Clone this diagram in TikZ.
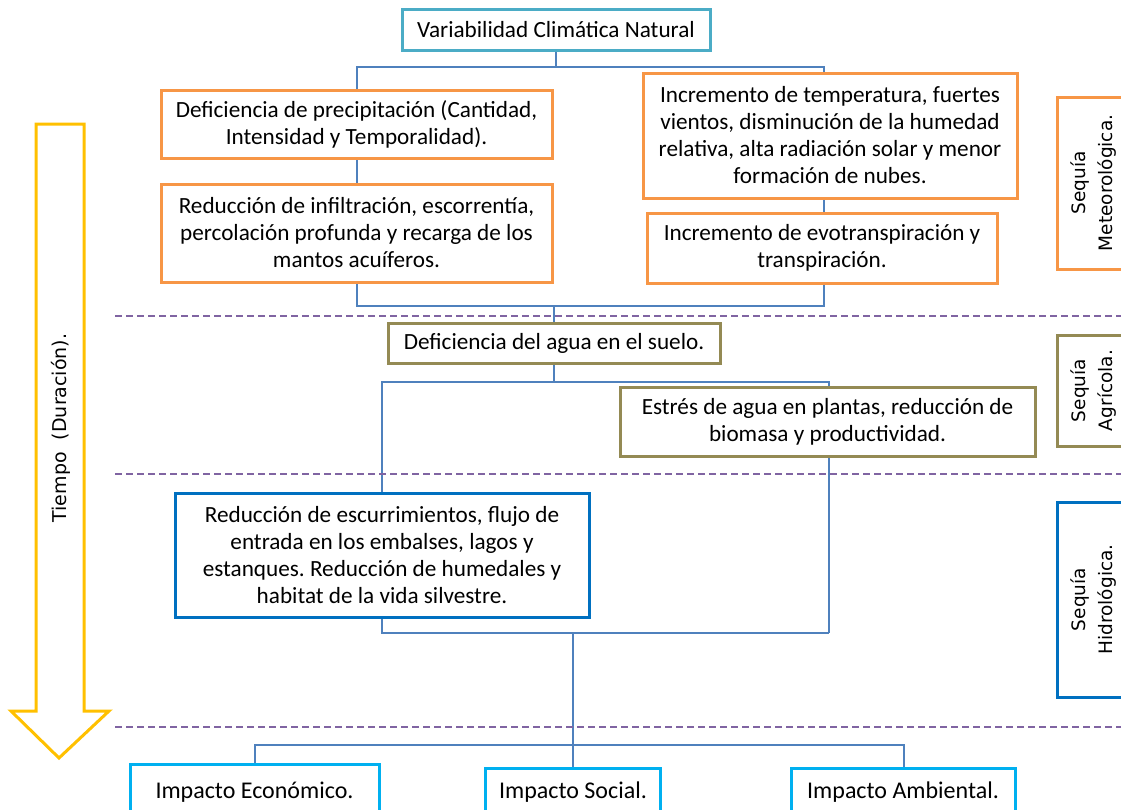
\documentclass[tikz,border=0pt]{standalone}
\usepackage{fontspec}
\setmainfont{Carlito}
\newfontfamily\sidefont{DejaVu Sans}
\usetikzlibrary{backgrounds}
\frenchspacing
\definecolor{cteal}{HTML}{4BACC6}
\definecolor{corange}{HTML}{F79646}
\definecolor{colive}{HTML}{948A54}
\definecolor{cblue}{HTML}{0070C0}
\definecolor{ccyan}{HTML}{00B0F0}
\definecolor{cconn}{HTML}{4F81BD}
\definecolor{cpurple}{HTML}{8064A2}
\definecolor{cyellow}{HTML}{FFC000}
\tikzset{
  box/.style={draw, fill=white, line width=3pt, align=center, inner sep=0pt,
    font=\fontsize{23.2}{27}\selectfont},
  sidebox/.style={draw, fill=white, line width=3pt, align=center, inner sep=0pt,
    rotate=90, font=\sidefont\fontsize{18.5}{27}\selectfont},
  conn/.style={draw=cconn, line width=1.4pt},
  sep/.style={draw=cpurple, line width=1.4pt, dash pattern=on 7pt off 4pt},
}
\begin{document}
\begin{tikzpicture}[x=1pt,y=-1pt]
\useasboundingbox (0,0) rectangle (1121,809);
% nodes
\node[box, draw=cteal, minimum width=308, minimum height=41] (top) at (556,29.5) {Variabilidad Climática Natural};
\node[box, draw=corange, minimum width=391, minimum height=68] (prec) at (356.5,124) {Deficiencia de precipitación (Cantidad,\\Intensidad y Temporalidad).};
\node[box, draw=corange, minimum width=391, minimum height=98] (infil) at (356.5,233) {Reducción de infiltración, escorrentía,\\percolación profunda y recarga de los\\mantos acuíferos.};
\node[box, draw=corange, minimum width=374, minimum height=125] (temp) at (830,135.5) {Incremento de temperatura, fuertes\\vientos, disminución de la humedad\\relativa, alta radiación solar y menor\\formación de nubes.};
\node[box, draw=corange, minimum width=350, minimum height=70] (evot) at (822,248) {Incremento de evotranspiración y\\transpiración.};
\node[box, draw=colive, minimum width=332, minimum height=40] (suelo) at (554,343) {Deficiencia del agua en el suelo.};
\node[box, draw=colive, minimum width=415, minimum height=69] (estres) at (827.5,421.5) {Estrés de agua en plantas, reducción de\\biomasa y productividad.};
\node[box, draw=cblue, minimum width=414, minimum height=124] (escurr) at (382,555) {Reducción de escurrimientos, flujo de\\entrada en los embalses, lagos y\\estanques. Reducción de humedales y\\habitat de la vida silvestre.};
\node[box, draw=ccyan, minimum width=249, minimum height=56, font=\fontsize{24}{27}\selectfont] (econ) at (254.5,792) {Impacto Económico.};
\node[box, draw=ccyan, minimum width=175, minimum height=48, font=\fontsize{24}{27}\selectfont] (social) at (573,792) {Impacto Social.};
\node[box, draw=ccyan, minimum width=224, minimum height=48, font=\fontsize{24}{27}\selectfont] (amb) at (903,792) {Impacto Ambiental.};
% side labels
\node[sidebox, draw=corange, minimum width=172, minimum height=73] (meteo) at (1093.5,183) {Sequía\\Meteorológica.};
\node[sidebox, draw=colive, minimum width=111, minimum height=73] (agric) at (1093.5,390.5) {Sequía\\Agrícola.};
\node[sidebox, draw=cblue, minimum width=195, minimum height=73] (hidro) at (1093.5,599.5) {Sequía\\Hidrológica.};
% time arrow
\draw[draw=cyellow, line width=3pt, line join=miter] (36,124) -- (84,124) -- (84,711) -- (109,711) -- (59,758) -- (11,711) -- (36,711) -- cycle;
\node[rotate=90, font=\sidefont\fontsize{19}{22}\selectfont, inner sep=0pt] (tiempo) at (61,428) {Tiempo\ \ (Duración).};
% connectors
\begin{pgfonlayer}{background}
\coordinate (a1) at (357,67); \coordinate (a2) at (824,67);
\draw[conn] (top.south) -- (top.south |- a1);
\draw[conn] (prec.north -| a1) -- (a1) -- (a2) -- (temp.north -| a2);
\draw[conn] (prec.south -| a1) -- (infil.north -| a1);
\draw[conn] (temp.south -| a2) -- (evot.north -| a2);
\coordinate (b1) at (357,306); \coordinate (b2) at (824,306);
\draw[conn] (infil.south -| b1) -- (b1) -- (b2) -- (evot.south -| b2);
\draw[conn] (suelo.north) -- (suelo.north |- b1);
\coordinate (c1) at (382,382); \coordinate (c2) at (829,382);
\coordinate (d1) at (382,633); \coordinate (d2) at (829,633);
\draw[conn] (suelo.south) -- (suelo.south |- c1);
\draw[conn] (escurr.north -| c1) -- (c1) -- (c2) -- (d2);
\draw[conn] (escurr.south -| d1) -- (d1) -- (d2);
\draw[conn] (social.north) -- (social.north |- d1);
\coordinate (e1) at (255,745); \coordinate (e2) at (904,745);
\draw[conn] (econ.north -| e1) -- (e1) -- (e2) -- (amb.north -| e2);
% separators
\draw[sep] (115,316) -- (1121,316);
\draw[sep] (115,474) -- (1121,474);
\draw[sep] (115,727) -- (1121,727);
\end{pgfonlayer}
\end{tikzpicture}
\end{document}
